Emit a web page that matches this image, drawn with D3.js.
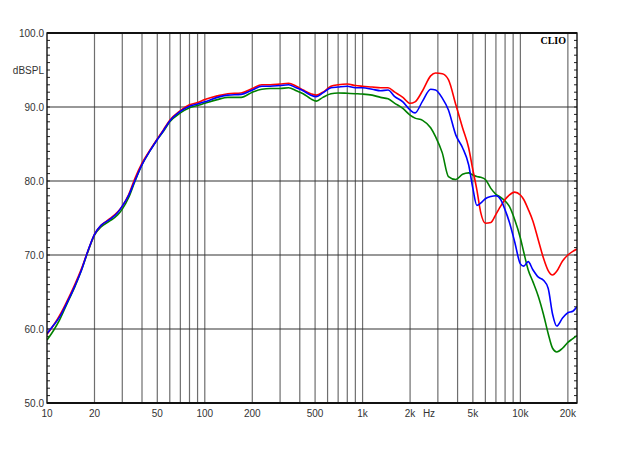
<!DOCTYPE html>
<html><head><meta charset="utf-8">
<script src="https://cdn.jsdelivr.net/npm/d3@7"></script>
<style>html,body{margin:0;padding:0;background:#fff;}svg{display:block;}</style>
</head><body>
<script>
const freqs = [10,11,12,13,14,15,16.5,18,20,22,25,28,30,33,36,40,45,50,55,60,70,80,90,100,120,140,170,200,230,260,300,340,380,420,470,510,560,630,700,800,900,1000,1150,1300,1450,1600,1800,2000,2150,2400,2700,2900,3200,3500,3900,4300,4700,5000,5300,5600,6000,6500,7000,7500,8000,8500,9200,10000,10500,11200,12000,13000,14000,15000,16000,17000,18500,20000,21500,22800];
const redValues = [59.3,60.5,61.8,63.2,64.6,66.0,68.1,70.3,72.8,74.0,74.9,75.8,76.6,78.2,80.3,82.4,84.2,85.7,87.0,88.2,89.5,90.3,90.6,91.0,91.5,91.8,91.9,92.5,93.0,93.0,93.1,93.2,92.8,92.3,91.8,91.6,92.0,92.8,93.0,93.1,92.9,92.8,92.7,92.6,92.6,92.0,91.3,90.5,90.7,92.2,94.2,94.6,94.5,93.7,90.3,87.2,84.5,81.5,78.8,75.8,74.3,74.4,75.5,76.6,77.5,78.1,78.5,78.1,77.5,76.2,74.6,72.0,69.6,67.9,67.3,67.8,69.2,70.0,70.5,70.8];
const blueValues = [59.4,60.5,61.6,63.0,64.4,65.8,67.9,70.3,72.8,74.0,74.8,75.7,76.6,78.1,80.0,82.2,84.1,85.6,86.9,88.1,89.4,90.1,90.4,90.7,91.3,91.6,91.7,92.3,92.8,92.8,92.9,93.0,92.6,92.2,91.6,91.4,91.9,92.6,92.7,92.8,92.6,92.6,92.4,92.2,92.3,91.4,90.7,89.6,89.2,90.8,92.4,92.3,91.2,89.6,86.2,84.5,82.2,79.0,76.7,77.0,77.6,77.9,78.0,77.5,76.1,74.5,71.8,68.8,68.5,69.1,68.0,67.0,66.6,65.5,62.0,60.4,61.5,62.2,62.4,63.0];
const greenValues = [58.5,59.8,61.2,62.8,64.3,65.7,67.9,70.2,72.7,73.8,74.6,75.4,76.2,77.8,79.9,82.2,84.1,85.6,86.8,88.0,89.2,89.9,90.2,90.5,91.0,91.3,91.3,92.0,92.4,92.5,92.5,92.6,92.2,91.8,91.1,90.8,91.3,91.8,91.9,91.85,91.8,91.75,91.6,91.3,91.1,90.5,89.8,88.9,88.5,88.2,87.2,86.0,83.8,80.6,80.2,80.9,81.1,80.8,80.6,80.5,80.2,79.0,78.2,77.8,77.3,76.6,74.8,72.3,70.4,68.0,66.4,64.4,62.0,59.4,57.4,56.9,57.4,58.2,58.7,59.1];
const yTickValues = [50,60,70,80,90,100];
const xTickValues = [10,20,50,100,200,500,1000,2000,5000,10000,20000];
const xTickLabels = ["10","20","50","100","200","500","1k","2k","5k","10k","20k"];
const gridFreqs = [20,30,40,50,60,70,80,90,100,200,300,400,500,600,700,800,900,1000,2000,3000,4000,5000,6000,7000,8000,9000,10000,20000];

const W = 624, H = 468;
const svg = d3.select("body").append("svg").attr("width", W).attr("height", H);
const x = d3.scaleLog().domain([10, 22850]).range([47, 577]);
const y = d3.scaleLinear().domain([50, 100]).range([403, 33]);
const L = 47, R = 577, T = 33, B = 403;

// vertical grid
svg.append("g").selectAll("line").data(gridFreqs).join("line")
  .attr("x1", d => x(d)).attr("x2", d => x(d)).attr("y1", T).attr("y2", B)
  .attr("stroke", "#6e6e6e").attr("stroke-width", 1.2);
// horizontal grid
svg.append("g").selectAll("line").data(yTickValues.slice(1, -1)).join("line")
  .attr("x1", L).attr("x2", R).attr("y1", d => y(d)).attr("y2", d => y(d))
  .attr("stroke", "#333").attr("stroke-width", 1.2);

// minor ticks left/right
const minor = d3.range(50, 101, 1);
svg.append("g").selectAll("line").data(minor).join("line")
  .attr("x1", L).attr("x2", L + 3).attr("y1", d => y(d)).attr("y2", d => y(d))
  .attr("stroke", "#222").attr("stroke-width", 1);
svg.append("g").selectAll("line").data(minor).join("line")
  .attr("x1", R - 3).attr("x2", R).attr("y1", d => y(d)).attr("y2", d => y(d))
  .attr("stroke", "#222").attr("stroke-width", 1);

// curves
svg.append("clipPath").attr("id", "clip").append("rect")
  .attr("x", L).attr("y", T).attr("width", R - L).attr("height", B - T);
const line = d3.line().x(d => x(d[0])).y(d => y(d[1])).curve(d3.curveMonotoneX);
const series = [
  {vals: greenValues, color: "#008000"},
  {vals: redValues, color: "#ff0000"},
  {vals: blueValues, color: "#0000ff"}
];
const cg = svg.append("g").attr("clip-path", "url(#clip)");
series.forEach(s => {
  cg.append("path").datum(freqs.map((f, i) => [f, s.vals[i]]))
    .attr("d", line).attr("fill", "none").attr("stroke", s.color)
    .attr("stroke-width", 1.6).attr("stroke-linejoin", "round");
});

// frame
svg.append("rect").attr("x", L).attr("y", T).attr("width", R - L).attr("height", B - T)
  .attr("fill", "none").attr("stroke", "#111").attr("stroke-width", 1.4);
svg.append("line").attr("x1", L).attr("x2", R).attr("y1", T).attr("y2", T).attr("stroke", "#111").attr("stroke-width", 2);
svg.append("line").attr("x1", L).attr("x2", R).attr("y1", B).attr("y2", B).attr("stroke", "#111").attr("stroke-width", 2);

// labels
const font = "'Liberation Sans', Arial, sans-serif";
svg.append("g").selectAll("text").data(yTickValues).join("text")
  .attr("x", 44).attr("y", d => y(d)).attr("dy", "0.35em")
  .attr("text-anchor", "end").attr("font-family", font).attr("font-size", 10)
  .attr("fill", "#333").text(d => d.toFixed(1));
svg.append("text").attr("x", 44).attr("y", y(95)).attr("dy", "0.35em")
  .attr("text-anchor", "end").attr("font-family", font).attr("font-size", 10)
  .attr("fill", "#333").text("dBSPL");
svg.append("g").selectAll("text").data(xTickValues).join("text")
  .attr("x", d => x(d)).attr("y", 413).attr("dy", "0.35em")
  .attr("text-anchor", "middle").attr("font-family", font).attr("font-size", 10)
  .attr("fill", "#333").text((d, i) => xTickLabels[i]);
svg.append("text").attr("x", 429).attr("y", 413).attr("dy", "0.35em")
  .attr("text-anchor", "middle").attr("font-family", font).attr("font-size", 10)
  .attr("fill", "#333").text("Hz");
svg.append("text").attr("x", 566).attr("y", 40).attr("dy", "0.35em")
  .attr("text-anchor", "end").attr("font-family", "'Liberation Serif', 'Times New Roman', serif")
  .attr("font-weight", "bold").attr("font-size", 10).attr("fill", "#000").text("CLIO");
</script>
</body></html>
